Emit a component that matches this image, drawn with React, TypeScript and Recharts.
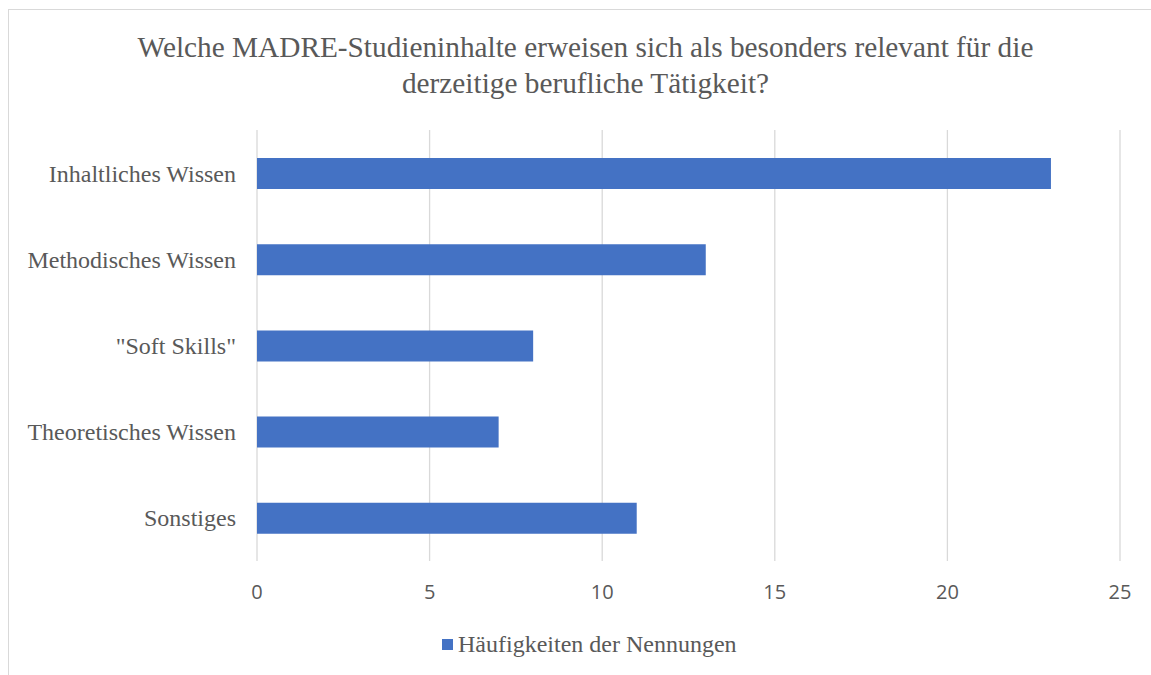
import { BarChart, Bar, XAxis, YAxis, CartesianGrid } from "recharts";

// ---------------------------------------------------------------------------
// Data
// ---------------------------------------------------------------------------
const CATEGORIES = [
  "Inhaltliches Wissen",
  "Methodisches Wissen",
  '"Soft Skills"',
  "Theoretisches Wissen",
  "Sonstiges",
];
const COUNTS = [23, 13, 8, 7, 11];
const X_TICKS = [0, 5, 10, 15, 20, 25];
const SERIES_NAME = "Häufigkeiten der Nennungen";
const TITLE_LINES = [
  "Welche MADRE-Studieninhalte erweisen sich als besonders relevant für die",
  "derzeitige berufliche Tätigkeit?",
];

const chartData = CATEGORIES.map((name, i) => ({ name, value: COUNTS[i] }));

// ---------------------------------------------------------------------------
// Styles
// ---------------------------------------------------------------------------
const BAR_COLOR = "#4472C4";
const TEXT_COLOR = "#595959";
const GRID_COLOR = "#d9d9d9";
const SERIF = "'Liberation Serif', 'Times New Roman', serif";
const SANS = "'Open Sans', 'Liberation Sans', sans-serif";

export default function App() {
  return (
    <div
      style={{
        position: "fixed",
        left: 0,
        top: 0,
        width: 1151,
        height: 675,
        overflow: "hidden",
        background: "#fff",
      }}
    >
      {/* chart frame, cropped on the right and bottom */}
      <div
        style={{
          position: "absolute",
          left: 8,
          top: 9,
          width: 1160,
          height: 700,
          border: "1px solid #d9d9d9",
          boxSizing: "border-box",
        }}
      />
      <div
        style={{
          position: "absolute",
          left: 0,
          width: 1171,
          top: 29,
          textAlign: "center",
          fontFamily: SERIF,
          fontSize: 29.3,
          lineHeight: "36px",
          color: TEXT_COLOR,
        }}
      >
        {TITLE_LINES.map((l) => (
          <div key={l}>{l}</div>
        ))}
      </div>
      <div style={{ position: "absolute", left: 0, top: 0 }}>
        <BarChart
          width={1151}
          height={675}
          data={chartData}
          layout="vertical"
          margin={{ top: 130, right: 31, bottom: 74, left: 0 }}
          barCategoryGap={0}
        >
          <CartesianGrid horizontal={false} stroke={GRID_COLOR} strokeWidth={1.3} />
          <XAxis
            type="number"
            domain={[0, 25]}
            ticks={X_TICKS}
            height={40}
            axisLine={false}
            tickLine={false}
            tickSize={0}
            tickMargin={24}
            tick={{ fill: TEXT_COLOR, fontFamily: SANS, fontSize: 20 }}
          />
          <YAxis
            type="category"
            dataKey="name"
            width={257}
            axisLine={false}
            tickLine={false}
            tickSize={0}
            tickMargin={21}
            tick={{ fill: TEXT_COLOR, fontFamily: SERIF, fontSize: 24 }}
          />
          <Bar
            dataKey="value"
            name={SERIES_NAME}
            fill={BAR_COLOR}
            barSize={31}
            isAnimationActive={false}
          />
        </BarChart>
      </div>
      {/* legend */}
      <div
        style={{
          position: "absolute",
          left: 442,
          top: 630,
          height: 28,
          display: "flex",
          alignItems: "center",
          fontFamily: SERIF,
          fontSize: 24,
          color: TEXT_COLOR,
          whiteSpace: "nowrap",
        }}
      >
        <span
          style={{
            display: "inline-block",
            width: 11,
            height: 11,
            background: BAR_COLOR,
            marginRight: 5,
          }}
        />
        <span>{SERIES_NAME}</span>
      </div>
    </div>
  );
}
